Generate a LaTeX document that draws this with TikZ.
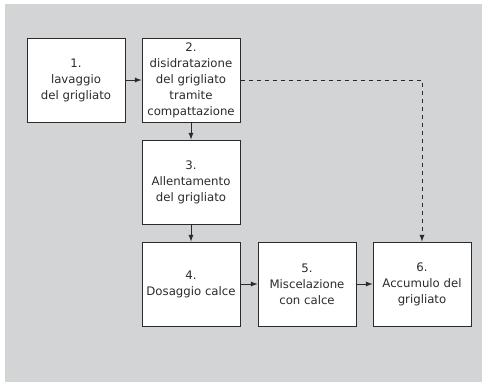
\documentclass[tikz,border=0pt]{standalone}
\usepackage{fontspec}
\setmainfont{DejaVu Sans}
\usetikzlibrary{positioning}
\definecolor{bggray}{HTML}{D3D4D6}
\definecolor{linegray}{HTML}{2B2B2B}
\tikzset{stepbox/.style={draw=linegray,line width=0.75pt,fill=white,minimum width=73.5pt,minimum height=63pt,align=center,inner sep=0pt,text=linegray},
  flow/.style={-latex,draw=linegray,line width=0.75pt}}
\begin{document}
\begin{tikzpicture}[font=\fontsize{8.8}{12}\selectfont,x=0.75pt,y=-0.75pt]
\useasboundingbox(0,0)rectangle(482,382);
\fill[bggray](5,4)rectangle(482,382);
\node[stepbox](s1)at(76,80){1.\\lavaggio\\del grigliato};
\node[stepbox,right=12pt of s1](s2){2.\\disidratazione\\del grigliato\\tramite\\compattazione};
\node[stepbox,below=12.75pt of s2](s3){3.\\Allentamento\\del grigliato};
\node[stepbox,below=12.75pt of s3](s4){4.\\Dosaggio calce};
\node[stepbox,right=12.75pt of s4](s5){5.\\Miscelazione\\con calce};
\node[stepbox,right=12pt of s5](s6){6.\\Accumulo del\\grigliato};
\draw[flow](s1)--(s2);
\draw[flow](s2)--(s3);
\draw[flow](s3)--(s4);
\draw[flow](s4)--(s5);
\draw[flow](s5)--(s6);
\draw[flow,dashed](s2.east)-|(s6.north);
\end{tikzpicture}
\end{document}
